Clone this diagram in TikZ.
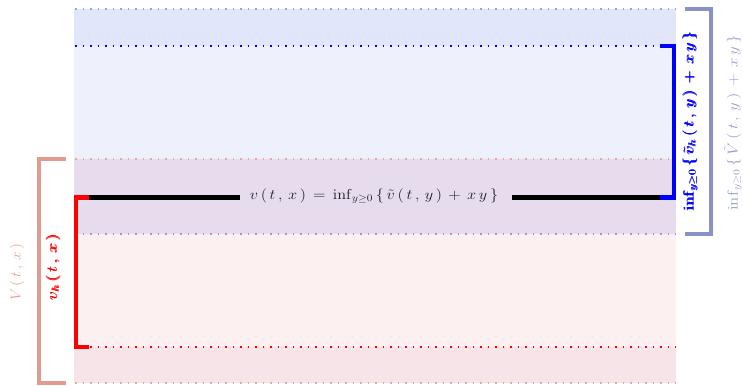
\documentclass[tikz,border=0pt]{standalone}
\usepackage{amsmath,amssymb}
\definecolor{bandA}{HTML}{E1E6FA}
\definecolor{bandB}{HTML}{EEF0FC}
\definecolor{bandC}{HTML}{E6DCEE}
\definecolor{bandD}{HTML}{FCF0F0}
\definecolor{bandE}{HTML}{F6E4E8}
\definecolor{grayblue}{HTML}{8A90C8}
\definecolor{graybluetxt}{HTML}{979DCC}
\definecolor{salmon}{HTML}{E09C90}
\definecolor{salmontxt}{HTML}{E2A092}
\definecolor{salmondot}{HTML}{E4A89C}
\definecolor{maintxt}{HTML}{202020}
\tikzset{
  dotline/.style={line width=1.6pt,dash pattern=on 1.6pt off 5.9pt},
  brk/.style={line width=4.5pt,line cap=butt},
  vlabel/.style={rotate=90,xscale=1.19,inner sep=0pt}
}
\newcommand{\lblsize}{\fontsize{14}{17}\selectfont}
\begin{document}
\begin{tikzpicture}[x=1pt,y=-1pt]
\useasboundingbox (0,0) rectangle (743,385);
\fill[bandA] (74,9) rectangle (676,46);
\fill[bandB] (74,46) rectangle (676,159);
\fill[bandC] (74,159) rectangle (676,234);
\fill[bandD] (74,234) rectangle (676,347);
\fill[bandE] (74,347) rectangle (676,383);
\draw[dotline,grayblue!85] (75,9) -- (676,9);
\draw[dotline,blue] (75,46) -- (660,46);
\draw[dotline,salmondot] (75,159) -- (676,159);
\draw[dotline,grayblue!90] (75,234) -- (676,234);
\draw[dotline,red] (90,347) -- (676,347);
\draw[dotline,salmondot] (75,383) -- (676,383);
\node[inner sep=0pt,xscale=1.13,text=maintxt] (vx) at (374,196) {\lblsize $v\,(\,t\,,\,x\,)\,=\,\inf_{y\geq 0}\,\{\,\tilde v\,(\,t\,,\,y\,)\,+\,x\,y\,\}$};
\coordinate (Lend) at (74,197);
\coordinate (Rend) at (676,197);
\coordinate (Lgap) at (240,197);
\coordinate (Rgap) at (512,197);
\draw[line width=5pt] (Lend) -- (Lgap);
\draw[line width=5pt] (Rgap) -- (Rend);
\coordinate (r1) at (89,197);
\coordinate (r2) at (76,197);
\coordinate (r3) at (76,347);
\coordinate (r4) at (89,347);
\draw[red,line width=4pt] (r1) -- (r2) -- (r3) -- (r4);
\fill[red] (74,194.5) rectangle (89,199.5);
\node[vlabel,text=red] (redlabel) at (53,267) {\lblsize $\pmb{v_h\,(\,t\,,\,x\,)}$};
\coordinate (b1) at (660,46);
\coordinate (b2) at (674,46);
\coordinate (b3) at (674,197);
\draw[blue,line width=4pt] (b1) -- (b2) -- (b3);
\fill[blue] (660,194.5) rectangle (676,199.5);
\node[vlabel,xscale=0.99,text=blue] (bluelabel) at (690,121) {\lblsize $\pmb{\inf_{y\geq 0}\,\{\,\tilde v_h\,(\,t\,,\,y\,)\,+\,x\,y\,\}}$};
\coordinate (s1) at (66,159);
\coordinate (s2) at (39,159);
\coordinate (s3) at (39,383);
\coordinate (s4) at (66,383);
\draw[brk,salmon] (s1) -- (s2) -- (s3) -- (s4);
\node[vlabel,xscale=0.9,text=salmontxt] (Vlabel) at (17,272) {\lblsize $V\,(\,t\,,\,x\,)$};
\coordinate (g1) at (685,9);
\coordinate (g2) at (711,9);
\coordinate (g3) at (711,234);
\coordinate (g4) at (685,234);
\draw[brk,grayblue] (g1) -- (g2) -- (g3) -- (g4);
\node[vlabel,xscale=0.98,text=graybluetxt] (graylabel) at (733,123) {\lblsize $\inf_{y\geq 0}\,\{\,\tilde V\,(\,t\,,\,y\,)\,+\,x\,y\,\}$};
\end{tikzpicture}
\end{document}
